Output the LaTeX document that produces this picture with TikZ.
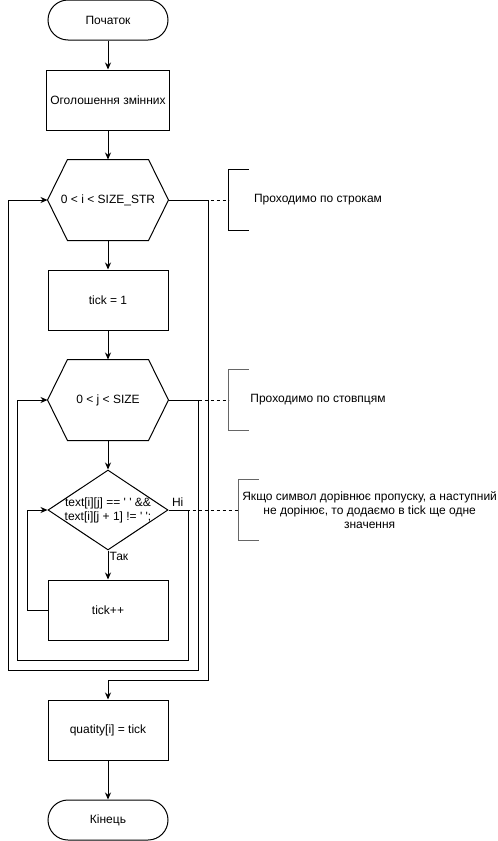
\documentclass[tikz,border=0pt]{standalone}
\usepackage{fontspec}
\setmainfont{Liberation Sans}
\usetikzlibrary{arrows.meta,shapes.geometric,positioning}

% hexagon outline round a node
\newcommand{\hexframe}[1]{%
  \draw (#1.west) -- ([xshift=20pt]#1.north west) -- ([xshift=-20pt]#1.north east) -- (#1.east)
    -- ([xshift=-20pt]#1.south east) -- ([xshift=20pt]#1.south west) -- cycle;}

\begin{document}
\begin{tikzpicture}
    [x=1pt, y=-1pt, line width=1pt, >={Stealth[length=7pt,width=6pt]}, node distance=100pt,
     every node/.style={font=\fontsize{12}{14}\selectfont},
     term/.style={rectangle, draw, rounded corners=20pt, minimum width=120pt, minimum height=40pt},
     proc/.style={rectangle, draw, minimum width=120pt, minimum height=60pt},
     hexbox/.style={rectangle, minimum width=120pt, minimum height=80pt, inner sep=0pt},
     decision/.style={diamond, draw, minimum width=120pt, minimum height=80pt, inner sep=0pt},
     note/.style={minimum height=60pt, align=center},
     bracket/.style={draw=black!60}]
  \useasboundingbox (0,0) rectangle (498,841);

  \node (start) [term] at (108,20) {Початок};
  \node (init) [proc, below of=start, node distance=80pt] {Оголошення змінних};
  \node (loopi) [hexbox, below of=init] {0 < i < SIZE\_STR};
  \node (tick) [proc, below of=loopi] {tick = 1};
  \node (loopj) [hexbox, below of=tick] {0 < j < SIZE};
  \node (cond) [decision, below of=loopj, node distance=110pt] {};
  \node (condtext) [align=center, inner sep=0pt] at (cond)
    {text[i][j] == \textquotesingle\ \textquotesingle\ \&\&\\text[i][j + 1] != \textquotesingle\ \textquotesingle;};
  \node (tickpp) [proc, below of=cond] {tick++};
  \node (quat) [proc, below of=tickpp, node distance=120pt] {quatity[i] = tick};
  \node (stop) [term, below of=quat, node distance=90pt] {Кінець};
  \hexframe{loopi}
  \hexframe{loopj}

  \node (yes) [anchor=north west, inner sep=1pt] at (cond.south) {Так};
  \node (no) [anchor=south west, inner sep=3pt] at (cond.east) {Ні};

  \draw[->] (start) -- (init);
  \draw[->] (init) -- (loopi);
  \draw[->] (loopi) -- (tick);
  \draw[->] (tick) -- (loopj);
  \draw[->] (loopj) -- (cond);
  \draw[->] (cond) -- (tickpp);
  \draw[->] (quat) -- (stop);

  % loops
  \draw[->] (tickpp.west) -- ++(-20,0) |- (cond.west);
  \draw[->] (cond.east) -- ++(20,0) -- ++(0,150) -- ++(-171,0) |- (loopj.west);
  \draw[->] (loopj.east) -- ++(30,0) -- ++(0,270) -- ++(-190,0) |- (loopi.west);
  \draw[->] (loopi.east) -- ++(40,0) -- ++(0,480) -| (quat.north);

  % comments
  \node (notei) [note, minimum width=178pt, right=60pt of loopi] {Проходимо по строкам};
  \node (notej) [note, minimum width=178pt, right=60pt of loopj] {Проходимо по стовпцям};
  \node (notec) [note, minimum width=258pt, right=70pt of cond]
    {Якщо символ дорівнює пропуску, а наступний\\не дорінює, то додаємо в tick ще одне\\значення};
  \draw[dashed, dash pattern=on 3pt off 3pt] (loopi.east) -- (notei.west);
  \draw[dashed, dash pattern=on 3pt off 3pt] (loopj.east) -- (notej.west);
  \draw[dashed, dash pattern=on 3pt off 3pt] (cond.east) -- (notec.west);
  \draw ([xshift=20pt]notei.north west) -- (notei.north west) -- (notei.south west) -- ([xshift=20pt]notei.south west);
  \draw[bracket] ([xshift=20pt]notej.north west) -- (notej.north west) -- (notej.south west) -- ([xshift=20pt]notej.south west);
  \draw[bracket] ([xshift=20pt]notec.north west) -- (notec.north west) -- (notec.south west) -- ([xshift=20pt]notec.south west);
\end{tikzpicture}
\end{document}
